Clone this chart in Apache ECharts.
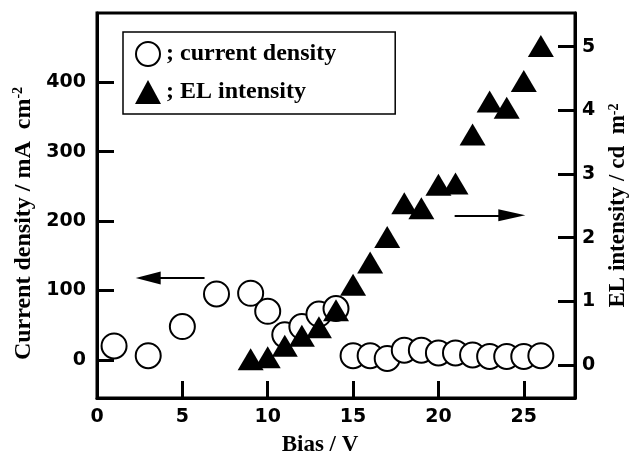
<!DOCTYPE html>
<html>
<head>
<meta charset="utf-8">
<script src="https://cdn.jsdelivr.net/npm/echarts@6/dist/echarts.min.js"></script>
<style>
  html, body { margin: 0; padding: 0; background: #fff; }
  #main { width: 629px; height: 457px; }
</style>
</head>
<body>
<div id="main"></div>
<script type="text/javascript">
// bias (V) for current density points
var biasCurrent = [1, 3, 5, 7, 9, 10, 11, 12, 13, 14, 15, 16, 17, 18, 19, 20, 21, 22, 23, 24, 25, 26];
// current density (mA cm-2)
var currentDensity = [20, 6, 48, 95, 96, 70, 36, 48, 66, 74, 6, 6, 2, 14, 14, 10, 10, 7, 5, 5, 5, 6];
// bias (V) for EL points
var biasEL = [9, 10, 11, 12, 13, 14, 15, 16, 17, 18, 19, 20, 21, 22, 23, 24, 25, 26];
// EL intensity (cd m-2)
var elIntensity = [0.09, 0.12, 0.30, 0.46, 0.59, 0.86, 1.26, 1.61, 2.01, 2.54, 2.46, 2.83, 2.85, 3.62, 4.14, 4.04, 4.46, 5.01];
// arrows pointing at each axis: [fromX, toX, y]
var arrowLeft = [6.3, 3.0, 118];
var arrowRight = [20.95, 24.3, 2.35];

var serif = '"Liberation Serif", "Times New Roman", serif';
var sans = '"DejaVu Sans", sans-serif';

function pairs(xs, ys) {
    var d = [];
    for (var i = 0; i < xs.length; i++) d.push([xs[i], ys[i]]);
    return d;
}

var myChart = echarts.init(document.getElementById('main'));

var tickStyle = { show: true, inside: true, length: 17, lineStyle: { color: '#000', width: 3 } };
var lineStyle = { show: true, onZero: false, lineStyle: { color: '#000', width: 3 } };
var labelStyle = { color: '#000', fontFamily: sans, fontWeight: 'bold', fontSize: 19 };
var supStyle = { fontFamily: serif, fontWeight: 'bold', fontSize: 14, verticalAlign: 'top', padding: [0, 0, 8, 0] };

var option = {
    animation: false,
    backgroundColor: '#fff',
    grid: {
        left: 97, right: 54, top: 13, bottom: 59,
        show: true, borderColor: '#000', borderWidth: 3,
        outerBoundsMode: 'none'
    },
    legend: {
        left: 123, top: 32,
        orient: 'vertical',
        padding: [9, 59, 10, 12],
        itemGap: 13,
        itemWidth: 26, itemHeight: 24,
        borderColor: '#000', borderWidth: 1.5,
        selectedMode: false,
        formatter: function (name) { return '; ' + name; },
        textStyle: { color: '#000', fontFamily: serif, fontWeight: 'bold', fontSize: 24 },
        data: ['current density', 'EL intensity']
    },
    xAxis: {
        type: 'value',
        min: 0, max: 28, interval: 5,
        name: 'Bias / V',
        nameLocation: 'middle',
        nameGap: 36,
        nameTextStyle: { color: '#000', fontFamily: serif, fontWeight: 'bold', fontSize: 23, padding: [0, 32, 0, 0] },
        axisLine: lineStyle,
        axisTick: tickStyle,
        splitLine: { show: false },
        axisLabel: Object.assign({ margin: 10, showMaxLabel: false }, labelStyle)
    },
    yAxis: [{
        type: 'value',
        position: 'left',
        min: -55, max: 500, splitNumber: 5,
        name: 'Current density / mA  cm{sup|-2}',
        nameLocation: 'middle',
        nameGap: 61,
        nameTextStyle: { color: '#000', fontFamily: serif, fontWeight: 'bold', fontSize: 24, padding: [0, 36, 0, 0], rich: { sup: supStyle } },
        axisLine: lineStyle,
        axisTick: tickStyle,
        splitLine: { show: false },
        axisLabel: Object.assign({ margin: 11, showMinLabel: false, showMaxLabel: false }, labelStyle)
    }, {
        type: 'value',
        position: 'right',
        min: -0.52, max: 5.53, splitNumber: 6,
        name: 'EL intensity / cd  m{sup|-2}',
        nameLocation: 'middle',
        nameRotate: 90,
        nameGap: 32,
        nameTextStyle: { color: '#000', fontFamily: serif, fontWeight: 'bold', fontSize: 23, rich: { sup: supStyle } },
        axisLine: lineStyle,
        axisTick: tickStyle,
        splitLine: { show: false },
        axisLabel: Object.assign({ margin: 7, showMinLabel: false, showMaxLabel: false }, labelStyle)
    }],
    series: [{
        name: 'current density',
        type: 'scatter',
        yAxisIndex: 0,
        symbol: 'circle',
        symbolSize: 25,
        itemStyle: { color: '#fff', borderColor: '#000', borderWidth: 2, opacity: 1 },
        data: pairs(biasCurrent, currentDensity),
        markLine: {
            silent: true,
            symbol: ['none', 'triangle'],
            symbolSize: [13, 25],
            label: { show: false },
            lineStyle: { color: '#000', width: 2, type: 'solid' },
            data: [[{ coord: [arrowLeft[0], arrowLeft[2]] }, { coord: [arrowLeft[1], arrowLeft[2]] }]]
        }
    }, {
        name: 'EL intensity',
        type: 'scatter',
        yAxisIndex: 1,
        symbol: 'triangle',
        symbolSize: [26, 22],
        itemStyle: { color: '#000', opacity: 1 },
        data: pairs(biasEL, elIntensity),
        markLine: {
            silent: true,
            symbol: ['none', 'triangle'],
            symbolSize: [12, 27],
            label: { show: false },
            lineStyle: { color: '#000', width: 2, type: 'solid' },
            data: [[{ coord: [arrowRight[0], arrowRight[2]] }, { coord: [arrowRight[1], arrowRight[2]] }]]
        }
    }]
};
myChart.setOption(option);
</script>
</body>
</html>
